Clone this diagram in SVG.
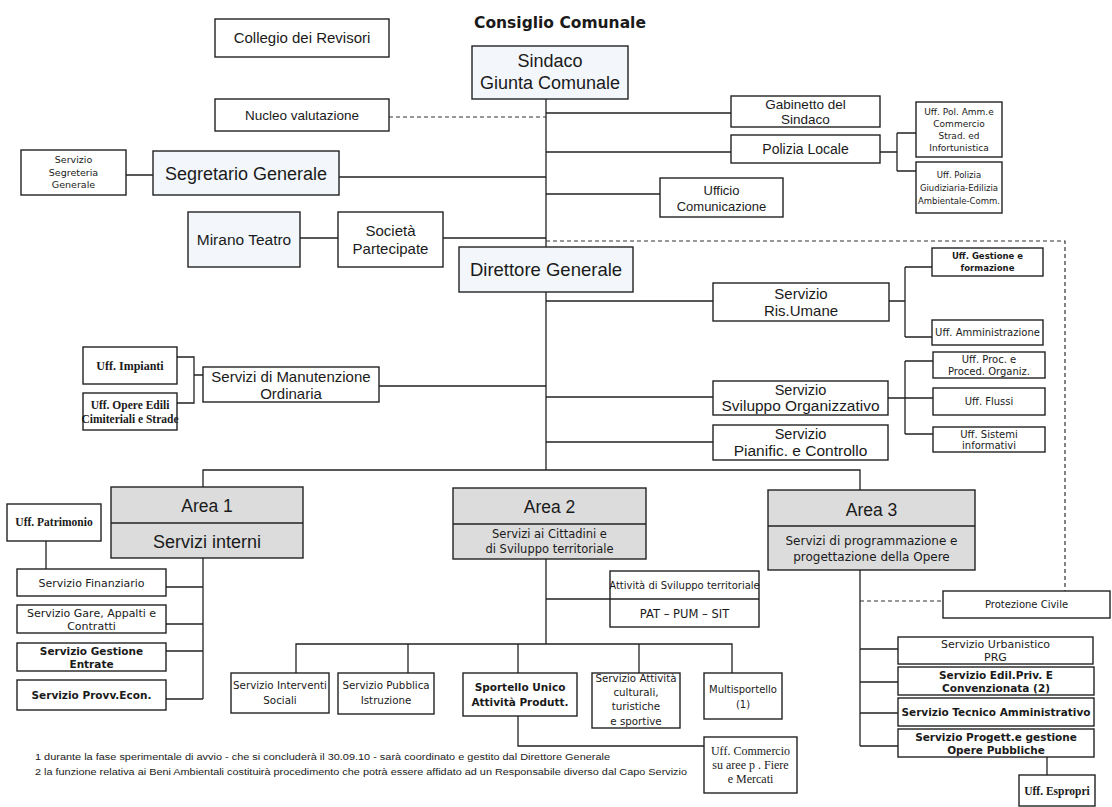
<svg xmlns="http://www.w3.org/2000/svg" width="1112" height="807" viewBox="0 0 1112 807">
<style>
.b{fill:#fff;stroke:#222;stroke-width:1.4}
.bl{fill:#f3f7fb;stroke:#222;stroke-width:1.4}
.ar{fill:#dcdcdc;stroke:#222;stroke-width:1.4}
.c{fill:none;stroke:#222;stroke-width:1.3}
.d{fill:none;stroke:#333;stroke-width:1.2;stroke-dasharray:4 3}
text{font-family:"Liberation Sans",Arial,sans-serif;fill:#1a1a1a;text-anchor:middle}
.v{font-family:"DejaVu Sans",Verdana,sans-serif}
.s{font-family:"Liberation Serif","Times New Roman",serif;font-weight:bold}
.sn{font-family:"Liberation Serif","Times New Roman",serif}
.bo{font-weight:bold}
.f{text-anchor:start;font-size:8.5px}
</style>
<rect width="1112" height="807" fill="#fff"/>
<g id="connectors">
<path class="c" d="M546 99V247M546 292V470"/>
<path class="d" d="M389 117H546"/>
<path class="c" d="M546 113H731M546 152H731M339 177H546M126 175H153M546 194H660"/>
<path class="c" d="M880 152H897M897 133V171M897 133H916M897 171H916"/>
<path class="c" d="M300 238H338M443 238H546"/>
<path class="d" d="M546 241H1065V591"/>
<path class="c" d="M546 301H713M889 301H905M905 267V337M905 267H932M905 337H932"/>
<path class="c" d="M546 397H713M888 398H905M905 361V434M905 361H933M905 398H933M905 434H933"/>
<path class="c" d="M546 442H713"/>
<path class="c" d="M379 386H546M177 357H194V403H177M194 375H203"/>
<path class="c" d="M203 487V470H860V490"/>
<path class="c" d="M203 558V699M166 587H203M166 624H203M166 651H203M166 699H203M46 541V569"/>
<path class="c" d="M546 559V644M546 599H610"/>
<path class="c" d="M296 673V644H732V673M408 644V673M518 644V673M639 644V673"/>
<path class="c" d="M518 716V746H704"/>
<path class="c" d="M860 570V746M860 649H898M860 682H898M860 713H898M860 746H898"/>
<path class="d" d="M860 601H943"/>
<path class="c" d="M1047 757V775"/>
</g>
<g id="title"><text x="560" y="28" class="v bo" font-size="15.5">Consiglio Comunale</text></g>
<g id="collegio"><rect class="b" x="215" y="19" width="174" height="38"/><text x="302" y="43" font-size="15">Collegio dei Revisori</text></g>
<g id="sindaco"><rect class="bl" x="472" y="46" width="156" height="53"/><text x="550" y="67" font-size="18">Sindaco</text><text x="550" y="89" font-size="18">Giunta Comunale</text></g>
<g id="nucleo"><rect class="b" x="215" y="99" width="174" height="32"/><text x="302" y="120" font-size="13.5">Nucleo valutazione</text></g>
<g id="segreteria"><rect class="b" x="21" y="150" width="105" height="45"/><text class="v" x="73.5" y="163" font-size="9.5">Servizio</text><text class="v" x="73.5" y="176" font-size="9.5">Segreteria</text><text class="v" x="73.5" y="188" font-size="9.5">Generale</text></g>
<g id="segretario"><rect class="bl" x="153" y="151" width="186" height="44"/><text x="246" y="180" font-size="18">Segretario Generale</text></g>
<g id="gabinetto"><rect class="b" x="731" y="96" width="149" height="31"/><text x="805.5" y="109" font-size="13.5">Gabinetto del</text><text x="805.5" y="124" font-size="13.5">Sindaco</text></g>
<g id="polizia"><rect class="b" x="731" y="135" width="149" height="28"/><text x="805.5" y="154" font-size="14">Polizia Locale</text></g>
<g id="uffpolamm"><rect class="b" x="916" y="102" width="86" height="55"/><text class="v" x="959" y="115" font-size="9">Uff. Pol. Amm.e</text><text class="v" x="959" y="127" font-size="9">Commercio</text><text class="v" x="959" y="139" font-size="9">Strad. ed</text><text class="v" x="959" y="151" font-size="9">Infortunistica</text></g>
<g id="uffpolgiud"><rect class="b" x="916" y="162" width="86" height="51"/><text class="v" x="959" y="178" font-size="8.5">Uff. Polizia</text><text class="v" x="959" y="191" font-size="8.5">Giudiziaria-Edilizia</text><text class="v" x="959" y="204" font-size="8.5">Ambientale-Comm.</text></g>
<g id="ufficiocom"><rect class="b" x="660" y="178" width="123" height="39"/><text x="721.5" y="195" font-size="13">Ufficio</text><text x="721.5" y="211" font-size="13">Comunicazione</text></g>
<g id="mirano"><rect class="bl" x="188" y="212" width="112" height="55"/><text x="244" y="245" font-size="15.5">Mirano Teatro</text></g>
<g id="societa"><rect class="b" x="338" y="212" width="105" height="55"/><text x="390.5" y="236" font-size="15">Società</text><text x="390.5" y="254" font-size="15">Partecipate</text></g>
<g id="direttore"><rect class="bl" x="459" y="247" width="174" height="45"/><text x="546" y="276" font-size="18.5">Direttore Generale</text></g>
<g id="risumane"><rect class="b" x="713" y="283" width="176" height="38"/><text x="801" y="299" font-size="15">Servizio</text><text x="801" y="316" font-size="15">Ris.Umane</text></g>
<g id="uffgestione"><rect class="b" x="932" y="248" width="111" height="28"/><text x="987.5" y="259" font-size="8.5" class="v bo">Uff. Gestione e</text><text x="987.5" y="271" font-size="8.5" class="v bo">formazione</text></g>
<g id="uffamm"><rect class="b" x="932" y="320" width="111" height="25"/><text class="v" x="987.5" y="336" font-size="10">Uff. Amministrazione</text></g>
<g id="uffproc"><rect class="b" x="933" y="352" width="112" height="26"/><text class="v" x="989" y="363" font-size="10">Uff. Proc. e</text><text class="v" x="989" y="375" font-size="10">Proced. Organiz.</text></g>
<g id="uffflussi"><rect class="b" x="933" y="388" width="112" height="27"/><text class="v" x="989" y="405" font-size="10">Uff. Flussi</text></g>
<g id="uffsistemi"><rect class="b" x="933" y="427" width="112" height="25"/><text class="v" x="989" y="438" font-size="10">Uff. Sistemi</text><text class="v" x="989" y="449" font-size="10">informativi</text></g>
<g id="sviluppo"><rect class="b" x="713" y="381" width="175" height="34"/><text x="800.5" y="395" font-size="14.5">Servizio</text><text x="800.5" y="411" font-size="14" textLength="158" lengthAdjust="spacingAndGlyphs">Sviluppo Organizzativo</text></g>
<g id="pianific"><rect class="b" x="713" y="425" width="175" height="35"/><text x="800.5" y="439" font-size="14.5">Servizio</text><text x="800.5" y="456" font-size="15.5">Pianific. e Controllo</text></g>
<g id="uffimpianti"><rect class="b" x="83" y="347" width="94" height="37"/><text x="130" y="370" font-size="12" class="s">Uff. Impianti</text></g>
<g id="uffopere"><rect class="b" x="83" y="393" width="94" height="37"/><text x="130" y="409" font-size="11.5" class="s">Uff. Opere Edili</text><text x="130" y="423" font-size="11.5" class="s">Cimiteriali e Strade</text></g>
<g id="manutenzione"><rect class="b" x="203" y="367" width="176" height="35"/><text x="291" y="382" font-size="15">Servizi di Manutenzione</text><text x="291" y="399" font-size="15">Ordinaria</text></g>
<g id="area1"><rect class="ar" x="111" y="487" width="192" height="71"/><path class="c" d="M111 523H303"/><text x="207" y="512" font-size="17.5">Area 1</text><text x="207" y="548" font-size="18">Servizi interni</text></g>
<g id="area2"><rect class="ar" x="453" y="488" width="193" height="71"/><path class="c" d="M453 524H646"/><text x="549.5" y="513" font-size="17.5">Area 2</text><text class="v" x="549.5" y="538" font-size="11.5">Servizi ai Cittadini e</text><text class="v" x="549.5" y="553" font-size="11.5">di Sviluppo territoriale</text></g>
<g id="area3"><rect class="ar" x="768" y="490" width="207" height="80"/><path class="c" d="M768 526H975"/><text x="871.5" y="516" font-size="17.5">Area 3</text><text class="v" x="871.5" y="545" font-size="12">Servizi di programmazione e</text><text class="v" x="871.5" y="561" font-size="12">progettazione della Opere</text></g>
<g id="uffpatrimonio"><rect class="b" x="7" y="504" width="94" height="37"/><text x="54" y="526" font-size="11.5" class="s">Uff. Patrimonio</text></g>
<g id="finanziario"><rect class="b" x="17" y="569" width="149" height="27"/><text class="v" x="91.5" y="587" font-size="11">Servizio Finanziario</text></g>
<g id="gare"><rect class="b" x="17" y="605" width="149" height="28"/><text class="v" x="91.5" y="617" font-size="11">Servizio Gare, Appalti e</text><text class="v" x="91.5" y="630" font-size="11">Contratti</text></g>
<g id="entrate"><rect class="b" x="17" y="643" width="149" height="28"/><text x="91.5" y="655" font-size="10.5" class="v bo">Servizio Gestione</text><text x="91.5" y="668" font-size="10.5" class="v bo">Entrate</text></g>
<g id="provv"><rect class="b" x="17" y="680" width="149" height="30"/><text x="91.5" y="699" font-size="10.5" class="v bo">Servizio Provv.Econ.</text></g>
<g id="attivita"><rect class="b" x="610" y="571" width="149" height="56"/><path class="c" d="M610 599H759"/><text class="v" x="684.5" y="589" font-size="10">Attività  di Sviluppo territoriale</text><text class="v" x="684.5" y="618" font-size="11.5">PAT – PUM – SIT</text></g>
<g id="interventi"><rect class="b" x="231" y="673" width="98" height="40"/><text class="v" x="280" y="689" font-size="10.3">Servizio Interventi</text><text class="v" x="280" y="704" font-size="10.3">Sociali</text></g>
<g id="pubblica"><rect class="b" x="338" y="673" width="96" height="41"/><text class="v" x="386" y="689" font-size="10.3">Servizio Pubblica</text><text class="v" x="386" y="704" font-size="10.3">Istruzione</text></g>
<g id="sportello"><rect class="b" x="463" y="673" width="114" height="43"/><text x="520" y="691" font-size="10.5" class="v bo">Sportello Unico</text><text x="520" y="706" font-size="10.5" class="v bo">Attività Produtt.</text></g>
<g id="culturali"><rect class="b" x="592" y="673" width="88" height="55"/><text class="v" x="636" y="682" font-size="10.3">Servizio Attività</text><text class="v" x="636" y="696" font-size="10.3">culturali,</text><text class="v" x="636" y="710" font-size="10.3">turistiche</text><text class="v" x="636" y="725" font-size="10.3">e sportive</text></g>
<g id="multisportello"><rect class="b" x="704" y="673" width="78" height="46"/><text class="v" x="743" y="693" font-size="10">Multisportello</text><text class="v" x="743" y="708" font-size="10">(1)</text></g>
<g id="uffcommercio"><rect class="b" x="704" y="737" width="93" height="56"/><text x="750.5" y="755" font-size="12" class="sn">Uff. Commercio</text><text x="750.5" y="769" font-size="12" class="sn">su aree p . Fiere</text><text x="750.5" y="783" font-size="12" class="sn">e Mercati</text></g>
<g id="protezione"><rect class="b" x="943" y="591" width="167" height="27"/><text class="v" x="1026.5" y="608" font-size="10">Protezione Civile</text></g>
<g id="urbanistico"><rect class="b" x="898" y="637" width="195" height="27"/><text class="v" x="995.5" y="648" font-size="11">Servizio Urbanistico</text><text class="v" x="995.5" y="661" font-size="11">PRG</text></g>
<g id="edilpriv"><rect class="b" x="898" y="667" width="196" height="28"/><text x="996" y="679" font-size="10.5" class="v bo">Servizio Edil.Priv. E</text><text x="996" y="692" font-size="10.5" class="v bo">Convenzionata (2)</text></g>
<g id="tecnico"><rect class="b" x="898" y="698" width="196" height="28"/><text x="996" y="716" font-size="10.5" class="v bo">Servizio Tecnico Amministrativo</text></g>
<g id="progett"><rect class="b" x="898" y="729" width="196" height="28"/><text x="996" y="741" font-size="10.5" class="v bo">Servizio Progett.e gestione</text><text x="996" y="754" font-size="10.5" class="v bo">Opere Pubbliche</text></g>
<g id="espropri"><rect class="b" x="1019" y="775" width="76" height="31"/><text x="1057" y="795" font-size="11.5" class="s">Uff. Espropri</text></g>
<g id="footnotes">
<text class="f" x="35" y="760" textLength="575" lengthAdjust="spacingAndGlyphs">1 durante la fase sperimentale di avvio - che si concluderà il 30.09.10 - sarà coordinato e gestito  dal Direttore Generale</text>
<text class="f" x="35" y="775" textLength="652" lengthAdjust="spacingAndGlyphs">2 la funzione relativa ai Beni Ambientali costituirà procedimento che potrà essere affidato ad un Responsabile diverso dal Capo Servizio</text>
</g>
</svg>
